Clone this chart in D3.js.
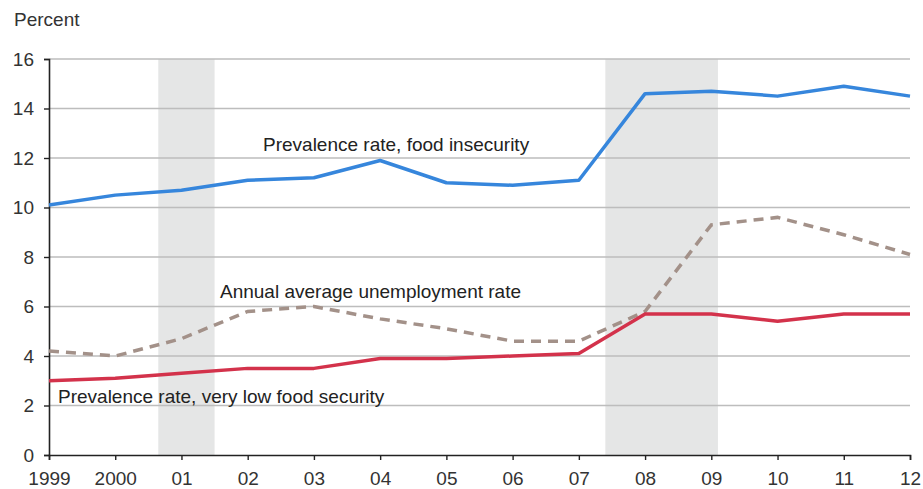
<!DOCTYPE html>
<html>
<head>
<meta charset="utf-8">
<script src="https://cdn.jsdelivr.net/npm/d3@7"></script>
<style>
  body { margin: 0; background: #fff; }
  text { font-family: "Liberation Sans", Arial, sans-serif; }
</style>
</head>
<body>
<div id="chart"></div>
<script>
const years = [1999, 2000, 2001, 2002, 2003, 2004, 2005, 2006, 2007, 2008, 2009, 2010, 2011, 2012];
const yearLabels = ['1999', '2000', '01', '02', '03', '04', '05', '06', '07', '08', '09', '10', '11', '12'];
const foodInsecurity = [10.1, 10.5, 10.7, 11.1, 11.2, 11.9, 11.0, 10.9, 11.1, 14.6, 14.7, 14.5, 14.9, 14.5];
const veryLowFood = [3.0, 3.1, 3.3, 3.5, 3.5, 3.9, 3.9, 4.0, 4.1, 5.7, 5.7, 5.4, 5.7, 5.7];
const unemployment = [4.2, 4.0, 4.7, 5.8, 6.0, 5.5, 5.1, 4.6, 4.6, 5.8, 9.3, 9.6, 8.9, 8.1];
const recessions = [[2000.65, 2001.5], [2007.4, 2009.1]];
const yTicks = [0, 2, 4, 6, 8, 10, 12, 14, 16];

const width = 923, height = 489;
const margin = { top: 59, right: 13, bottom: 34, left: 49 };

const svg = d3.select('#chart').append('svg')
  .attr('width', width)
  .attr('height', height);

const x = d3.scaleLinear().domain([1999, 2012]).range([margin.left, width - margin.right]);
const y = d3.scaleLinear().domain([0, 16]).range([height - margin.bottom, margin.top]);

// recession shading
svg.selectAll('.rec')
  .data(recessions)
  .enter()
  .append('rect')
  .attr('x', d => x(d[0]))
  .attr('width', d => x(d[1]) - x(d[0]))
  .attr('y', y(16))
  .attr('height', y(0) - y(16))
  .attr('fill', '#e5e6e6');

// gridlines
svg.selectAll('.grid')
  .data(yTicks.filter(d => d > 0))
  .enter()
  .append('line')
  .attr('x1', x(1999))
  .attr('x2', x(2012))
  .attr('y1', d => y(d))
  .attr('y2', d => y(d))
  .attr('stroke', '#bdbdbd')
  .attr('stroke-width', 1.6);

// y axis
const yAxis = svg.append('g')
  .attr('transform', 'translate(' + x(1999) + ',0)')
  .call(d3.axisLeft(y).tickValues(yTicks).tickSize(5).tickPadding(10));
yAxis.select('.domain').attr('stroke', '#222').attr('stroke-width', 1.6);
yAxis.selectAll('.tick line').attr('stroke', '#222').attr('stroke-width', 1.4);
yAxis.selectAll('.tick text').attr('font-size', 19).attr('fill', '#333');

// x axis
const xAxis = svg.append('g')
  .attr('transform', 'translate(0,' + y(0) + ')')
  .call(d3.axisBottom(x).tickValues(years).tickFormat((d, i) => yearLabels[i]).tickSize(5).tickPadding(12));
xAxis.select('.domain').attr('stroke', '#222').attr('stroke-width', 1.6);
xAxis.selectAll('.tick line').attr('stroke', '#222').attr('stroke-width', 1.4);
xAxis.selectAll('.tick text').attr('font-size', 19).attr('fill', '#333');

// lines
const line = d3.line()
  .x((d, i) => x(years[i]))
  .y(d => y(d));

svg.append('path')
  .attr('d', line(unemployment))
  .attr('fill', 'none')
  .attr('stroke', '#a39189')
  .attr('stroke-width', 3.5)
  .attr('stroke-dasharray', '10,7');

svg.append('path')
  .attr('d', line(veryLowFood))
  .attr('fill', 'none')
  .attr('stroke', '#d3324b')
  .attr('stroke-width', 3.5)
  .attr('stroke-linejoin', 'round');

svg.append('path')
  .attr('d', line(foodInsecurity))
  .attr('fill', 'none')
  .attr('stroke', '#3686dc')
  .attr('stroke-width', 3.5)
  .attr('stroke-linejoin', 'round');

// labels
svg.append('text').attr('x', 14).attr('y', 26).attr('font-size', 19).attr('fill', '#333').text('Percent');
svg.append('text').attr('x', 263).attr('y', 151).attr('font-size', 19).attr('fill', '#222').text('Prevalence rate, food insecurity');
svg.append('text').attr('x', 220).attr('y', 298).attr('font-size', 19).attr('fill', '#222').text('Annual average unemployment rate');
svg.append('text').attr('x', 58).attr('y', 403).attr('font-size', 19).attr('fill', '#222').text('Prevalence rate, very low food security');
</script>
</body>
</html>
